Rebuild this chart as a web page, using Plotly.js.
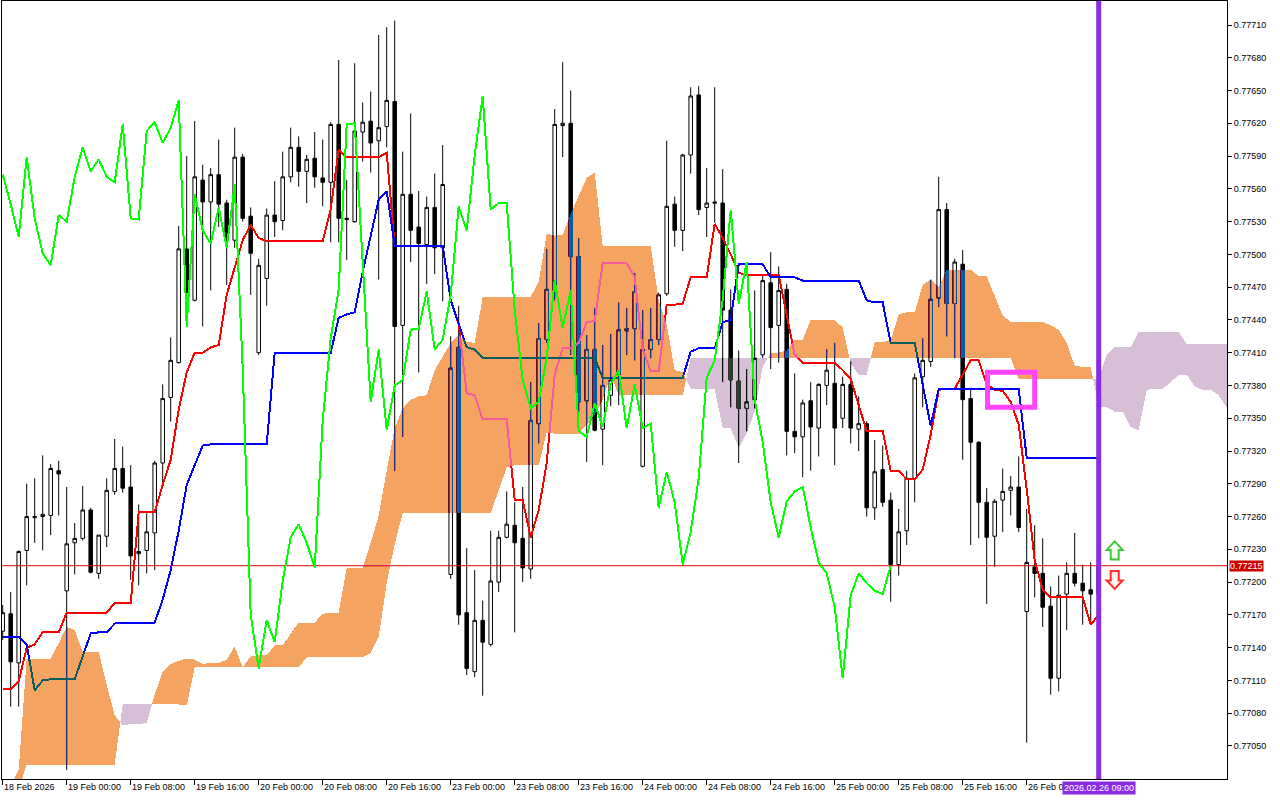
<!DOCTYPE html>
<html>
<head>
<meta charset="utf-8">
<script src="https://cdn.plot.ly/plotly-3.0.1.min.js"></script>
<style>html,body{margin:0;padding:0;background:#fff;}#chart{width:1280px;height:800px;}</style>
</head>
<body>
<div id="chart"></div>
<script>
// ---- time axis (H1 bars, index 0 = 18 Feb 2026 16:00) ----
const tickIndex = [0,8,16,24,32,40,48,56,64,72,80,88,96,104,112,120,128];
const tickLabels = ["18 Feb 2026","19 Feb 00:00","19 Feb 08:00","19 Feb 16:00","20 Feb 00:00","20 Feb 08:00","20 Feb 16:00","23 Feb 00:00","23 Feb 08:00","23 Feb 16:00","24 Feb 00:00","24 Feb 08:00","24 Feb 16:00","25 Feb 00:00","25 Feb 08:00","25 Feb 16:00","26 Feb 00:00"];
const currentBarIndex = 137;
const currentBarLabel = "2026.02.26 09:00";
const priceTicks = [0.77050,0.77080,0.77110,0.77140,0.77170,0.77200,0.77230,0.77260,0.77290,0.77320,0.77350,0.77380,0.77410,0.77440,0.77470,0.77500,0.77530,0.77560,0.77590,0.77620,0.77650,0.77680,0.77710];
const priceTickLabels = ["0.77050","0.77080","0.77110","0.77140","0.77170","0.77200","0.77230","0.77260","0.77290","0.77320","0.77350","0.77380","0.77410","0.77440","0.77470","0.77500","0.77530","0.77560","0.77590","0.77620","0.77650","0.77680","0.77710"];

// ---- OHLC ----
const open = [0.77155,0.77171,0.77126,0.77229,0.77259,0.77260,0.77261,0.77302,0.77192,0.77236,
0.77240,0.77266,0.77208,0.77242,0.77283,0.77304,0.77287,0.77226,0.77229,0.77245,
0.77309,0.77369,0.77401,0.77505,0.77458,0.77568,0.77548,0.77573,0.77547,0.77513,
0.77589,0.77535,0.77410,0.77478,0.77536,0.77531,0.77571,0.77598,0.77576,0.77588,
0.77570,0.77566,0.77619,0.77533,0.77530,0.77612,0.77622,0.77604,0.77617,0.77640,
0.77435,0.77555,0.77525,0.77509,0.77543,0.77506,0.77207,0.77415,0.77172,0.77118,
0.77165,0.77143,0.77200,0.77241,0.77252,0.77240,0.77212,0.77345,0.77422,0.77467,
0.77618,0.77620,0.77498,0.77366,0.77413,0.77340,0.77371,0.77390,0.77430,0.77432,
0.77306,0.77413,0.77422,0.77464,0.77546,0.77522,0.77591,0.77646,0.77543,0.77548,
0.77547,0.77449,0.77384,0.77359,0.77367,0.77408,0.77474,0.77435,0.77468,0.77338,
0.77333,0.77366,0.77341,0.77380,0.77382,0.77350,0.77381,0.77340,0.77345,0.77268,
0.77303,0.77275,0.77216,0.77247,0.77295,0.77388,0.77402,0.77460,0.77541,0.77455,
0.77491,0.77368,0.77328,0.77273,0.77242,0.77275,0.77284,0.77287,0.77173,0.77214,
0.77208,0.77178,0.77112,0.77189,0.77208,0.77199,0.77193,0.77189];
const high = [0.77179,0.77191,0.77229,0.77290,0.77295,0.77316,0.77308,0.77311,0.77287,0.77254,
0.77288,0.77268,0.77243,0.77295,0.77331,0.77324,0.77307,0.77271,0.77263,0.77311,
0.77381,0.77424,0.77526,0.77590,0.77622,0.77582,0.77579,0.77605,0.77550,0.77616,
0.77592,0.77543,0.77496,0.77542,0.77567,0.77594,0.77616,0.77608,0.77591,0.77612,
0.77605,0.77621,0.77678,0.77568,0.77675,0.77639,0.77649,0.77701,0.77708,0.77714,
0.77594,0.77629,0.77558,0.77553,0.77574,0.77600,0.77425,0.77453,0.77231,0.77211,
0.77183,0.77247,0.77247,0.77283,0.77273,0.77287,0.77383,0.77437,0.77505,0.77633,
0.77676,0.77650,0.77515,0.77426,0.77451,0.77417,0.77427,0.77456,0.77451,0.77483,
0.77449,0.77451,0.77465,0.77604,0.77553,0.77592,0.77653,0.77654,0.77579,0.77653,
0.77578,0.77468,0.77412,0.77395,0.77467,0.77481,0.77502,0.77489,0.77473,0.77391,
0.77367,0.77383,0.77382,0.77413,0.77419,0.77388,0.77402,0.77370,0.77347,0.77330,
0.77325,0.77282,0.77267,0.77302,0.77391,0.77423,0.77477,0.77571,0.77547,0.77496,
0.77504,0.77378,0.77329,0.77286,0.77276,0.77304,0.77297,0.77315,0.77267,0.77252,
0.77240,0.77196,0.77206,0.77218,0.77245,0.77216,0.77218,0.77220];
const low = [0.77147,0.77086,0.77086,0.77197,0.77236,0.77229,0.77243,0.77261,0.77028,0.77207,
0.77238,0.77208,0.77203,0.77232,0.77280,0.77282,0.77202,0.77197,0.77208,0.77211,
0.77291,0.77347,0.77400,0.77457,0.77457,0.77434,0.77467,0.77525,0.77472,0.77506,
0.77530,0.77463,0.77408,0.77453,0.77516,0.77522,0.77566,0.77562,0.77547,0.77561,
0.77544,0.77511,0.77511,0.77495,0.77529,0.77585,0.77575,0.77477,0.77598,0.77302,
0.77333,0.77493,0.77392,0.77473,0.77482,0.77457,0.77203,0.77161,0.77115,0.77113,
0.77096,0.77141,0.77191,0.77240,0.77154,0.77200,0.77203,0.77327,0.77419,0.77458,
0.77589,0.77408,0.77355,0.77310,0.77338,0.77307,0.77361,0.77362,0.77408,0.77403,
0.77305,0.77405,0.77417,0.77462,0.77507,0.77503,0.77574,0.77536,0.77516,0.77529,
0.77383,0.77360,0.77309,0.77338,0.77359,0.77405,0.77395,0.77401,0.77316,0.77318,
0.77296,0.77302,0.77315,0.77362,0.77307,0.77341,0.77327,0.77320,0.77260,0.77257,
0.77269,0.77182,0.77206,0.77234,0.77273,0.77360,0.77397,0.77452,0.77425,0.77405,
0.77312,0.77234,0.77240,0.77180,0.77214,0.77246,0.77261,0.77246,0.77053,0.77186,
0.77159,0.77097,0.77100,0.77156,0.77196,0.77161,0.77161,0.77185];
const close = [0.77172,0.77127,0.77228,0.77260,0.77260,0.77262,0.77304,0.77299,0.77235,0.77240,
0.77266,0.77209,0.77243,0.77284,0.77304,0.77286,0.77224,0.77228,0.77246,0.77309,
0.77368,0.77403,0.77505,0.77465,0.77571,0.77548,0.77573,0.77546,0.77516,0.77589,
0.77533,0.77501,0.77490,0.77536,0.77530,0.77571,0.77598,0.77576,0.77587,0.77571,
0.77566,0.77619,0.77533,0.77532,0.77613,0.77621,0.77602,0.77616,0.77641,0.77434,
0.77555,0.77522,0.77510,0.77543,0.77506,0.77564,0.77396,0.77170,0.77121,0.77165,
0.77145,0.77201,0.77241,0.77253,0.77236,0.77213,0.77348,0.77423,0.77468,0.77619,
0.77620,0.77498,0.77365,0.77413,0.77339,0.77380,0.77385,0.77431,0.77432,0.77466,
0.77413,0.77422,0.77463,0.77544,0.77522,0.77591,0.77645,0.77541,0.77547,0.77547,
0.77449,0.77385,0.77359,0.77365,0.77405,0.77476,0.77433,0.77467,0.77338,0.77333,
0.77364,0.77342,0.77381,0.77394,0.77341,0.77381,0.77341,0.77345,0.77268,0.77301,
0.77273,0.77216,0.77246,0.77295,0.77387,0.77403,0.77459,0.77541,0.77455,0.77493,
0.77367,0.77328,0.77273,0.77241,0.77274,0.77283,0.77287,0.77250,0.77218,0.77208,
0.77177,0.77112,0.77188,0.77208,0.77199,0.77192,0.77189,0.77215];

// ---- Ichimoku lines ----
const tenkan = [0.77102,0.77102,0.77109,0.77140,0.77143,0.77154,0.77154,0.77154,0.77172,0.77172,
0.77172,0.77172,0.77172,0.77172,0.77181,0.77181,0.77181,0.77264,0.77264,0.77264,
0.77289,0.77312,0.77358,0.77392,0.77410,0.77410,0.77415,0.77417,0.77463,0.77488,
0.77513,0.77527,0.77515,0.77512,0.77512,0.77512,0.77512,0.77512,0.77512,0.77512,
0.77512,0.77541,0.77596,0.77589,0.77589,0.77589,0.77589,0.77589,0.77593,0.77508,
0.77508,0.77508,0.77508,0.77508,0.77508,0.77508,0.77458,0.77436,0.77373,0.77371,
0.77349,0.77349,0.77349,0.77349,0.77275,0.77275,0.77241,0.77266,0.77309,0.77390,
0.77414,0.77414,0.77419,0.77438,0.77439,0.77492,0.77492,0.77492,0.77492,0.77479,
0.77413,0.77393,0.77393,0.77454,0.77454,0.77455,0.77479,0.77479,0.77479,0.77528,
0.77515,0.77500,0.77483,0.77481,0.77481,0.77481,0.77481,0.77481,0.77445,0.77408,
0.77401,0.77401,0.77401,0.77401,0.77401,0.77394,0.77386,0.77362,0.77338,0.77338,
0.77338,0.77302,0.77302,0.77294,0.77294,0.77303,0.77335,0.77376,0.77377,0.77377,
0.77390,0.77403,0.77403,0.77381,0.77376,0.77375,0.77365,0.77344,0.77285,0.77220,
0.77193,0.77186,0.77186,0.77186,0.77186,0.77186,0.77161,0.77170];
const kijun = [0.77150,0.77150,0.77150,0.77143,0.77101,0.77110,0.77111,0.77111,0.77111,0.77111,
0.77132,0.77153,0.77154,0.77154,0.77162,0.77163,0.77163,0.77163,0.77163,0.77163,
0.77184,0.77211,0.77247,0.77289,0.77307,0.77325,0.77326,0.77326,0.77326,0.77326,
0.77326,0.77326,0.77326,0.77326,0.77410,0.77410,0.77410,0.77410,0.77410,0.77410,
0.77410,0.77410,0.77442,0.77445,0.77447,0.77484,0.77517,0.77550,0.77558,0.77508,
0.77508,0.77508,0.77508,0.77508,0.77508,0.77508,0.77458,0.77436,0.77415,0.77413,
0.77405,0.77405,0.77405,0.77405,0.77405,0.77405,0.77405,0.77405,0.77405,0.77405,
0.77405,0.77405,0.77405,0.77405,0.77405,0.77387,0.77387,0.77387,0.77387,0.77387,
0.77387,0.77387,0.77387,0.77387,0.77387,0.77387,0.77411,0.77414,0.77414,0.77414,
0.77438,0.77440,0.77491,0.77491,0.77491,0.77491,0.77479,0.77479,0.77479,0.77479,
0.77476,0.77476,0.77476,0.77476,0.77476,0.77476,0.77476,0.77476,0.77458,0.77456,
0.77456,0.77419,0.77419,0.77419,0.77419,0.77381,0.77343,0.77377,0.77377,0.77377,
0.77377,0.77377,0.77377,0.77377,0.77377,0.77377,0.77377,0.77377,0.77314,0.77314,
0.77314,0.77314,0.77314,0.77314,0.77314,0.77314,0.77314,0.77314];
const chikouShift = 26;
// Senkou spans (already shifted forward, index = bar position on chart)
const spanA = [0.77000,0.77014,0.77028,0.77130,0.77130,0.77130,0.77130,0.77144,0.77159,0.77156,
0.77136,0.77136,0.77136,0.77106,0.77078,0.77069,0.77070,0.77070,0.77071,0.77097,
0.77118,0.77125,0.77128,0.77130,0.77129,0.77125,0.77126,0.77126,0.77129,0.77141,
0.77122,0.77132,0.77133,0.77133,0.77142,0.77142,0.77152,0.77163,0.77163,0.77163,
0.77171,0.77172,0.77172,0.77213,0.77213,0.77213,0.77236,0.77261,0.77302,0.77341,
0.77359,0.77367,0.77370,0.77371,0.77394,0.77407,0.77419,0.77426,0.77420,0.77419,
0.77461,0.77461,0.77461,0.77461,0.77461,0.77461,0.77461,0.77475,0.77519,0.77517,
0.77518,0.77537,0.77553,0.77570,0.77575,0.77508,0.77508,0.77508,0.77508,0.77508,
0.77508,0.77508,0.77458,0.77436,0.77394,0.77392,0.77377,0.77377,0.77377,0.77377,
0.77341,0.77341,0.77323,0.77336,0.77357,0.77397,0.77410,0.77410,0.77412,0.77422,
0.77422,0.77440,0.77440,0.77440,0.77440,0.77433,0.77400,0.77390,0.77390,0.77420,
0.77420,0.77421,0.77445,0.77447,0.77447,0.77472,0.77477,0.77470,0.77486,0.77486,
0.77486,0.77486,0.77480,0.77480,0.77462,0.77444,0.77438,0.77438,0.77438,0.77438,
0.77438,0.77435,0.77431,0.77419,0.77398,0.77397,0.77397,0.77360,0.77360,0.77356,
0.77356,0.77342,0.77339,0.77376,0.77377,0.77377,0.77383,0.77390,0.77390,0.77379,
0.77376,0.77376,0.77371,0.77360];
const spanB = [0.76982,0.77000,0.77010,0.77033,0.77033,0.77033,0.77033,0.77033,0.77033,0.77033,
0.77033,0.77033,0.77033,0.77033,0.77033,0.77088,0.77088,0.77088,0.77088,0.77088,
0.77088,0.77088,0.77088,0.77087,0.77122,0.77122,0.77122,0.77122,0.77122,0.77122,
0.77122,0.77122,0.77122,0.77122,0.77122,0.77122,0.77122,0.77122,0.77131,0.77131,
0.77131,0.77131,0.77131,0.77131,0.77131,0.77131,0.77135,0.77150,0.77199,0.77235,
0.77263,0.77263,0.77263,0.77263,0.77263,0.77263,0.77263,0.77263,0.77263,0.77263,
0.77263,0.77263,0.77284,0.77305,0.77307,0.77307,0.77307,0.77307,0.77337,0.77336,
0.77336,0.77336,0.77336,0.77344,0.77353,0.77367,0.77390,0.77371,0.77371,0.77371,
0.77371,0.77371,0.77371,0.77371,0.77371,0.77371,0.77405,0.77405,0.77405,0.77405,
0.77405,0.77405,0.77405,0.77405,0.77405,0.77405,0.77405,0.77405,0.77405,0.77405,
0.77405,0.77405,0.77405,0.77405,0.77405,0.77405,0.77405,0.77405,0.77405,0.77405,
0.77405,0.77405,0.77405,0.77405,0.77405,0.77405,0.77405,0.77405,0.77405,0.77405,
0.77405,0.77405,0.77405,0.77405,0.77405,0.77405,0.77405,0.77386,0.77386,0.77386,
0.77386,0.77386,0.77386,0.77386,0.77386,0.77386,0.77386,0.77386,0.77408,0.77415,
0.77415,0.77415,0.77429,0.77429,0.77429,0.77429,0.77429,0.77429,0.77418,0.77418,
0.77418,0.77418,0.77418,0.77418];

// ---- chart objects ----
const boxStart = 123.1, boxEnd = 129.0, boxLow = 0.77360, boxHigh = 0.77392;
const buyArrow = {bar: 139, price: 0.77229};
const sellArrow = {bar: 139, price: 0.77202};

// ---------------------------------------------------------------
const idx = open.map((_, i) => i);
const lastPrice = close[close.length - 1];
const chikouX = close.slice(chikouShift).map((_, i) => i);
const chikouY = close.slice(chikouShift);

// cloud bands (insert crossing points of the two spans)
const cx = [], loO = [], hiO = [], loT = [], hiT = [];
function pushPt(x, a, b) {
  const m = Math.max(a, b);
  cx.push(x); loO.push(b); hiO.push(m); loT.push(a); hiT.push(m);
}
for (let k = 0; k < spanA.length; k++) {
  pushPt(k, spanA[k], spanB[k]);
  if (k < spanA.length - 1) {
    const d1 = spanA[k] - spanB[k], d2 = spanA[k + 1] - spanB[k + 1];
    if (d1 * d2 < 0) {
      const t = d1 / (d1 - d2);
      const yc = spanA[k] + (spanA[k + 1] - spanA[k]) * t;
      pushPt(k + t, yc, yc);
    }
  }
}

const FONT = 'Liberation Sans, Arial, sans-serif';
const xRange = [-0.0875, -0.0875 + 1225 / 8];
const yRange = [0.7701974, 0.7773197];

const traces = [
  {type: 'candlestick', x: idx, open: open, high: high, low: low, close: close,
   increasing: {line: {color: '#000', width: 1}, fillcolor: '#ffffff'},
   decreasing: {line: {color: '#000', width: 1}, fillcolor: '#000000'},
   whiskerwidth: 0, hoverinfo: 'skip'},
  {type: 'scatter', mode: 'lines', x: [xRange[0] - 1, xRange[1] + 1], y: [lastPrice, lastPrice],
   line: {color: '#e00000', width: 1}, hoverinfo: 'skip'},
  {type: 'scatter', mode: 'lines', x: idx, y: tenkan, line: {color: '#ff0000', width: 2}, hoverinfo: 'skip'},
  {type: 'scatter', mode: 'lines', x: idx, y: kijun, line: {color: '#0000ff', width: 2}, hoverinfo: 'skip'},
  {type: 'scatter', mode: 'lines', x: cx, y: loO, line: {width: 0, color: 'rgba(0,0,0,0)'}, hoverinfo: 'skip'},
  {type: 'scatter', mode: 'lines', x: cx, y: hiO, fill: 'tonexty', fillcolor: '#0b5b9f', line: {width: 0, color: 'rgba(0,0,0,0)'}, hoverinfo: 'skip'},
  {type: 'scatter', mode: 'lines', x: cx, y: loT, line: {width: 0, color: 'rgba(0,0,0,0)'}, hoverinfo: 'skip'},
  {type: 'scatter', mode: 'lines', x: cx, y: hiT, fill: 'tonexty', fillcolor: '#274027', line: {width: 0, color: 'rgba(0,0,0,0)'}, hoverinfo: 'skip'},
  {type: 'scatter', mode: 'lines', x: chikouX, y: chikouY, line: {color: '#00ff00', width: 2}, hoverinfo: 'skip'}
];

const annotations = tickIndex.map((t, k) => ({
  x: t, y: 0, xref: 'x', yref: 'paper', text: tickLabels[k], showarrow: false,
  xanchor: 'left', yanchor: 'top', xshift: -1, yshift: -1, borderpad: 1,
  font: {family: FONT, size: 9, color: '#000'}
}));
annotations.push({
  x: currentBarIndex, y: 0, xref: 'x', yref: 'paper', text: currentBarLabel, showarrow: false,
  xanchor: 'center', yanchor: 'top', yshift: -2, bgcolor: '#8a2be2', borderpad: 1,
  font: {family: FONT, size: 9, color: '#ffffff'}
});
annotations.push({
  x: 1, y: lastPrice, xref: 'paper', yref: 'y', text: lastPrice.toFixed(5), showarrow: false,
  xanchor: 'left', yanchor: 'middle', xshift: 2, bgcolor: '#cc0000', borderpad: 0,
  font: {family: FONT, size: 9, color: '#ffffff'}
});

// hollow block arrows (buy / sell objects), drawn in pixel size around their anchor
const upArrowPath = 'M0,9 L8,0.5 L4,0.5 L4,-9 L-4,-9 L-4,0.5 L-8,0.5 Z';
const downArrowPath = 'M0,-9 L8,-0.5 L4,-0.5 L4,9 L-4,9 L-4,-0.5 L-8,-0.5 Z';

const layout = {
  width: 1280, height: 800,
  margin: {l: 2, r: 53, t: 1, b: 21, pad: 0},
  paper_bgcolor: '#ffffff', plot_bgcolor: '#ffffff',
  showlegend: false,
  font: {family: FONT, size: 9, color: '#000'},
  xaxis: {type: 'linear', range: xRange, rangeslider: {visible: false},
    showgrid: false, zeroline: false, showline: true, mirror: true, linecolor: '#000', linewidth: 1,
    tickmode: 'array', tickvals: tickIndex, showticklabels: false,
    ticks: 'outside', ticklen: 5, tickcolor: '#000', tickwidth: 1},
  yaxis: {type: 'linear', range: yRange, side: 'right',
    showgrid: false, zeroline: false, showline: true, mirror: true, linecolor: '#000', linewidth: 1,
    tickmode: 'array', tickvals: priceTicks, ticktext: priceTickLabels,
    ticks: 'outside', ticklen: 4, tickcolor: '#000', tickwidth: 1,
    tickfont: {family: FONT, size: 9, color: '#000'}},
  shapes: [
    {type: 'line', xref: 'x', yref: 'paper', x0: currentBarIndex, x1: currentBarIndex, y0: 0, y1: 1,
     line: {color: '#8a2be2', width: 5}, layer: 'above'},
    {type: 'rect', xref: 'x', yref: 'y', x0: boxStart, x1: boxEnd, y0: boxLow, y1: boxHigh,
     line: {color: '#ff44ff', width: 5}, fillcolor: 'rgba(0,0,0,0)', layer: 'above'},
    {type: 'path', xref: 'x', yref: 'y', xsizemode: 'pixel', ysizemode: 'pixel',
     xanchor: buyArrow.bar, yanchor: buyArrow.price, path: upArrowPath,
     line: {color: '#3cc83c', width: 2}, fillcolor: '#f4fff0', layer: 'above'},
    {type: 'path', xref: 'x', yref: 'y', xsizemode: 'pixel', ysizemode: 'pixel',
     xanchor: sellArrow.bar, yanchor: sellArrow.price, path: downArrowPath,
     line: {color: '#ff2a2a', width: 2}, fillcolor: '#fff4f0', layer: 'above'}
  ],
  annotations: annotations,
  boxgap: 0.37
};

// MT5 draws the cloud with an inverting pen: emulate with a difference blend
function applyCloudBlend() {
  const layer = gd.querySelector('.scatterlayer');
  if (!layer) return;
  const plotG = layer.parentNode;
  if (plotG && !plotG.querySelector('rect.cloud-backdrop')) {
    const r = document.createElementNS('http://www.w3.org/2000/svg', 'rect');
    r.setAttribute('class', 'cloud-backdrop');
    r.setAttribute('x', -50); r.setAttribute('y', -50);
    r.setAttribute('width', 1500); r.setAttribute('height', 1000);
    r.setAttribute('fill', '#ffffff');
    plotG.insertBefore(r, plotG.firstChild);
  }
  gd.querySelectorAll('.scatterlayer path.js-fill').forEach(function (p) {
    p.style.mixBlendMode = 'difference';
    p.style.shapeRendering = 'crispEdges';
  });
  gd.querySelectorAll('.scatterlayer path.js-line').forEach(function (p) {
    const w = parseFloat(p.style.strokeWidth || p.getAttribute('stroke-width') || '0');
    if (w >= 2) p.style.shapeRendering = 'crispEdges';
  });
}

const gd = document.getElementById('chart');
Plotly.newPlot(gd, traces, layout, {staticPlot: true, displayModeBar: false}).then(applyCloudBlend);
</script>
</body>
</html>
